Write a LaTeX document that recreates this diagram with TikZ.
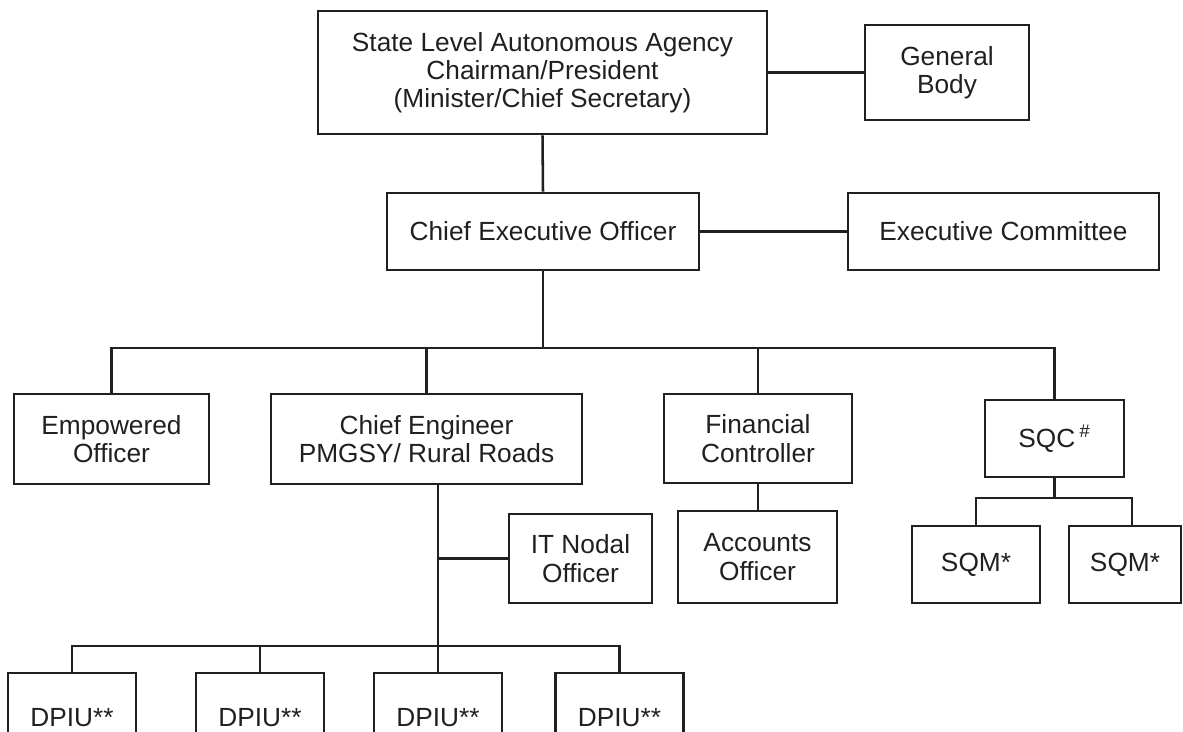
\documentclass[tikz,border=0pt]{standalone}
\usepackage{fontspec}
\setmainfont{Liberation Sans}
\usetikzlibrary{calc}
\definecolor{ink}{HTML}{231F20}
\newcommand\orgfont{\fontsize{19.7pt}{21.2pt}\selectfont}
\tikzset{
  orgbox/.style={draw=ink, line width=1.9pt, inner sep=0pt, align=center,
                 font=\orgfont, text=ink},
  sz/.style 2 args={minimum width=#1*0.75pt, minimum height=#2*0.75pt},
  link/.style={draw=ink, line width=1.9pt}
}
\begin{document}
\begin{tikzpicture}[x=0.75pt, y=-0.75pt]
  \fill[white] (0,0) rectangle (1183,732);
  \useasboundingbox (0,0) rectangle (1183,732);

  % top level
  \node[orgbox, sz={449}{123}] (agency) at (542.5,72.5)
    {State Level Autonomous Agency\\Chairman/President\\(Minister/Chief Secretary)};
  \node[orgbox, sz={164}{95}] (gbody) at (947,72.5) {General\\Body};
  \node[orgbox, sz={312}{77}] (ceo) at (543,231.5) {Chief Executive Officer};
  \node[orgbox, sz={311}{77}] (ecom) at (1003.5,231.5) {Executive Committee};

  % second level
  \node[orgbox, sz={195}{90}] (emp) at (111.5,439) {Empowered\\Officer};
  \node[orgbox, sz={311}{90}] (cheng) at (426.5,439) {Chief Engineer\\PMGSY/ Rural Roads};
  \node[orgbox, sz={188}{89}] (finc) at (758,438.5) {Financial\\Controller};
  \node[orgbox, sz={139}{77}] (sqc) at (1054.5,438.5) {SQC\,\textsuperscript{\#}};

  % third level
  \node[orgbox, sz={143}{89}] (itno) at (580.5,558.5) {IT Nodal\\Officer};
  \node[orgbox, sz={159}{92}] (acct) at (757.5,557) {Accounts\\Officer};
  \node[orgbox, sz={128}{77}] (sqmA) at (976,564.5) {SQM*};
  \node[orgbox, sz={112}{77}] (sqmB) at (1125,564.5) {SQM*};

  % district units
  \node[orgbox, sz={128}{90}] (dA) at (72,718) {DPIU**};
  \node[orgbox, sz={128}{90}] (dB) at (260,718) {DPIU**};
  \node[orgbox, sz={128}{90}] (dC) at (438,718) {DPIU**};
  \node[orgbox, sz={128}{90}] (dD) at (619.5,718) {DPIU**};

  % junction points
  \coordinate (bus) at (543,348);
  \coordinate (ceout) at ($(cheng.south)+(11.5,0)$);
  \coordinate (dbus) at (438,646);
  \coordinate (qbus) at (1054.5,498);
  \coordinate (sqmBtop) at (1132,526);

  % connectors
  \draw[link] (agency.east) -- (gbody.west);
  \draw[link] (agency.south) -- (ceo.north);
  \draw[link] (ceo.east) -- (ecom.west);
  \draw[link] (ceo.south) -- (bus);
  \draw[link] (emp.north) |- (bus) -| (sqc.north);
  \draw[link] (cheng.north) -- (cheng.north |- bus);
  \draw[link] (finc.north) -- (finc.north |- bus);
  \draw[link] (finc.south) -- (finc.south |- acct.north);
  \draw[link] (ceout) -- (dbus);
  \draw[link] (itno.west) -- (itno.west -| ceout);
  \draw[link] (dA.north) |- (dbus) -| (dD.north);
  \draw[link] (dB.north) -- (dB.north |- dbus);
  \draw[link] (dC.north) -- (dC.north |- dbus);
  \draw[link] (sqc.south) -- (qbus);
  \draw[link] (sqmA.north) |- (qbus) -| (sqmBtop);
\end{tikzpicture}
\end{document}
